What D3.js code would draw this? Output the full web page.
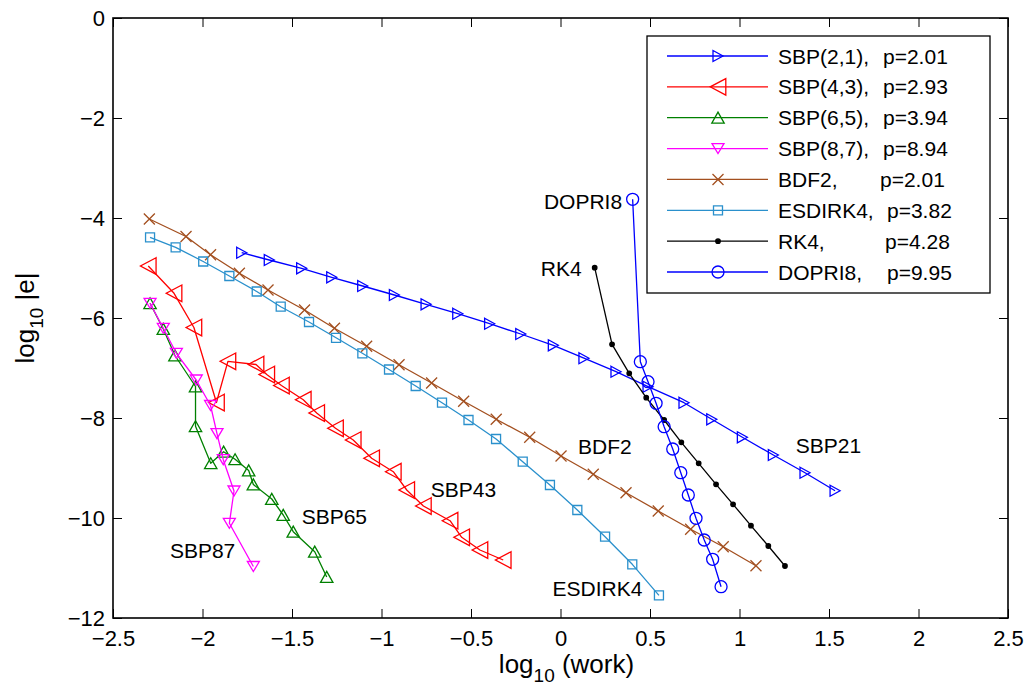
<!DOCTYPE html>
<html>
<head>
<meta charset="utf-8">
<script src="https://cdn.jsdelivr.net/npm/d3@7"></script>
<style>
  html, body { margin: 0; padding: 0; background: #fff; }
  svg { display: block; font-family: Arial, "Liberation Sans", Helvetica, sans-serif; }
</style>
</head>
<body>
<svg id="chart" width="1031" height="693"></svg>
<script>
// ---- data: log10(work) vs log10 |e| for each integrator ----
const sbp21X = [-1.781, -1.627, -1.446, -1.278, -1.105, -0.928, -0.751, -0.574, -0.396, -0.222,
                -0.040, 0.131, 0.310, 0.489, 0.690, 0.845, 1.016, 1.189, 1.366, 1.534];
const sbp21Y = [-4.694, -4.840, -5.006, -5.186, -5.360, -5.540, -5.726, -5.914, -6.114, -6.320,
                -6.546, -6.804, -7.074, -7.374, -7.694, -8.026, -8.386, -8.740, -9.094, -9.454];

const sbp43X = [-2.303, -2.159, -2.048, -1.922, -1.858, -1.701, -1.641, -1.559, -1.437, -1.362,
                -1.257, -1.158, -1.055, -0.934, -0.859, -0.766, -0.617, -0.552, -0.450, -0.320];
const sbp43Y = [-4.960, -5.506, -6.190, -7.690, -6.866, -6.930, -7.130, -7.350, -7.634, -7.900,
                -8.206, -8.440, -8.806, -9.074, -9.440, -9.760, -10.054, -10.386, -10.640, -10.840];

const sbp65X = [-2.293, -2.219, -2.154, -2.039, -2.039, -1.954, -1.882, -1.818, -1.742, -1.716,
                -1.613, -1.549, -1.493, -1.373, -1.306];
const sbp65Y = [-5.706, -6.220, -6.750, -7.370, -8.166, -8.906, -8.674, -8.826, -9.050, -9.330,
                -9.620, -9.940, -10.274, -10.674, -11.180];

const sbp87X = [-2.293, -2.219, -2.146, -2.035, -1.955, -1.919, -1.884, -1.824, -1.850, -1.716];
const sbp87Y = [-5.706, -6.206, -6.706, -7.240, -7.750, -8.314, -8.834, -9.460, -10.106, -10.970];

const bdf2X = [-2.297, -2.092, -1.955, -1.794, -1.634, -1.430, -1.263, -1.083, -0.902, -0.720,
               -0.541, -0.359, -0.172, 0.003, 0.183, 0.366, 0.546, 0.727, 0.909, 1.092];
const bdf2Y = [-4.020, -4.370, -4.734, -5.106, -5.440, -5.840, -6.206, -6.566, -6.934, -7.300,
               -7.666, -8.026, -8.384, -8.760, -9.126, -9.494, -9.860, -10.226, -10.574, -10.954];

const esdirk4X = [-2.293, -2.150, -1.996, -1.850, -1.697, -1.563, -1.405, -1.254, -1.107, -0.958,
                  -0.809, -0.662, -0.514, -0.360, -0.211, -0.059, 0.094, 0.249, 0.401, 0.550];
const esdirk4Y = [-4.386, -4.586, -4.870, -5.160, -5.470, -5.774, -6.080, -6.396, -6.706, -7.030,
                  -7.360, -7.694, -8.040, -8.420, -8.874, -9.340, -9.840, -10.374, -10.926, -11.546];

const rk4X = [0.191, 0.288, 0.384, 0.479, 0.579, 0.675, 0.772, 0.869, 0.964, 1.064, 1.161, 1.254];
const rk4Y = [-4.994, -6.526, -7.106, -7.594, -8.040, -8.486, -8.906, -9.326, -9.726, -10.154, -10.560, -10.960];

const dopri8X = [0.403, 0.446, 0.489, 0.534, 0.579, 0.627, 0.672, 0.714, 0.757, 0.803, 0.850, 0.897];
const dopri8Y = [-3.626, -6.874, -7.274, -7.706, -8.174, -8.620, -9.094, -9.540, -10.006, -10.440, -10.826, -11.374];

// legend entries: method name and measured order
const legendNames  = ["SBP(2,1),", "SBP(4,3),", "SBP(6,5),", "SBP(8,7),", "BDF2,", "ESDIRK4,", "RK4,", "DOPRI8,"];
const legendOrders = ["p=2.01", "p=2.93", "p=3.94", "p=8.94", "p=2.01", "p=3.82", "p=4.28", "p=9.95"];

// tick values
const xTicks = [-2.5, -2, -1.5, -1, -0.5, 0, 0.5, 1, 1.5, 2, 2.5];
const yTicks = [-12, -10, -8, -6, -4, -2, 0];

// in-plot curve labels (data coordinates)
const curveLabels = ["DOPRI8", "RK4", "BDF2", "SBP43", "ESDIRK4", "SBP21", "SBP65", "SBP87"];
const curveLabelX = [0.344, 0.118, 0.098, -0.725, -0.044, 1.314, -1.446, -2.182];
const curveLabelY = [-3.66, -5.00, -8.56, -9.42, -11.40, -8.54, -9.96, -10.64];
const curveLabelAnchor = ["end", "end", "start", "start", "start", "start", "start", "start"];

// ---- drawing ----
const svg = d3.select("#chart");
const W = 1031, H = 693;
const plot = { left: 113, right: 1008, top: 18, bottom: 618 };

svg.append("rect").attr("width", W).attr("height", H).attr("fill", "#fff");

const x = d3.scaleLinear().domain([-2.5, 2.5]).range([plot.left, plot.right]);
const y = d3.scaleLinear().domain([-12, 0]).range([plot.bottom, plot.top]);

// marker shapes
const markerPaths = {
  triRight: "M-5,-5.5L5,0L-5,5.5Z",
  triLeft:  "M7.8,-8.3L-7.8,0L7.8,8.3Z",
  triUp:    "M0,-5.6L6.2,5.4L-6.2,5.4Z",
  triDown:  "M-6,-5L6,-5L0,5Z",
  cross:    "M-5.5,-5.5L5.5,5.5M-5.5,5.5L5.5,-5.5",
  square:   "M-4.5,-4.5H4.5V4.5H-4.5Z",
  circle:   d3.symbol().type(d3.symbolCircle).size(Math.PI * 36)(),
  dot:      d3.symbol().type(d3.symbolCircle).size(Math.PI * 5)()
};

const series = [
  { xs: sbp21X,   ys: sbp21Y,   color: "#0000ff", marker: "triRight" },
  { xs: sbp43X,   ys: sbp43Y,   color: "#ff0000", marker: "triLeft" },
  { xs: sbp65X,   ys: sbp65Y,   color: "#008000", marker: "triUp" },
  { xs: sbp87X,   ys: sbp87Y,   color: "#ff00ff", marker: "triDown" },
  { xs: bdf2X,    ys: bdf2Y,    color: "#a34f1f", marker: "cross" },
  { xs: esdirk4X, ys: esdirk4Y, color: "#2a90cc", marker: "square" },
  { xs: rk4X,     ys: rk4Y,     color: "#000000", marker: "dot", filled: true },
  { xs: dopri8X,  ys: dopri8Y,  color: "#0000ff", marker: "circle" }
];

// axes: ticks pointing inward on all four sides
const fmt = d3.format("");
const axisFont = 22;

const gx = svg.append("g").attr("transform", `translate(0,${plot.bottom})`)
  .call(d3.axisBottom(x).tickValues(xTicks).tickFormat(fmt).tickSizeInner(-9).tickSizeOuter(0).tickPadding(12));
const gxt = svg.append("g").attr("transform", `translate(0,${plot.top})`)
  .call(d3.axisTop(x).tickValues(xTicks).tickFormat("").tickSizeInner(-9).tickSizeOuter(0));
const gy = svg.append("g").attr("transform", `translate(${plot.left},0)`)
  .call(d3.axisLeft(y).tickValues(yTicks).tickFormat(fmt).tickSizeInner(-9).tickSizeOuter(0).tickPadding(8));
const gyr = svg.append("g").attr("transform", `translate(${plot.right},0)`)
  .call(d3.axisRight(y).tickValues(yTicks).tickFormat("").tickSizeInner(-9).tickSizeOuter(0));

[gx, gxt, gy, gyr].forEach(g => {
  g.select(".domain").remove();
  g.selectAll(".tick line").attr("stroke", "#000").attr("stroke-width", 1);
  g.selectAll(".tick text").attr("fill", "#000").style("font-size", axisFont + "px")
    .style("font-family", "Arial, 'Liberation Sans', Helvetica, sans-serif");
});

// series lines and markers
const line = d3.line().x(d => x(d[0])).y(d => y(d[1]));
const gSeries = svg.append("g");
series.forEach(s => {
  const pts = s.xs.map((v, i) => [v, s.ys[i]]);
  gSeries.append("path").datum(pts)
    .attr("d", line).attr("fill", "none")
    .attr("stroke", s.color).attr("stroke-width", 1.3).attr("stroke-linejoin", "round");
  gSeries.append("g").selectAll("path").data(pts).join("path")
    .attr("transform", d => `translate(${x(d[0])},${y(d[1])})`)
    .attr("d", markerPaths[s.marker])
    .attr("fill", s.filled ? s.color : "none")
    .attr("stroke", s.color).attr("stroke-width", 1.3);
});

// plot frame
svg.append("rect")
  .attr("x", plot.left).attr("y", plot.top)
  .attr("width", plot.right - plot.left).attr("height", plot.bottom - plot.top)
  .attr("fill", "none").attr("stroke", "#000").attr("stroke-width", 1.6);

// curve labels
svg.append("g").selectAll("text").data(curveLabels).join("text")
  .attr("x", (d, i) => x(curveLabelX[i]))
  .attr("y", (d, i) => y(curveLabelY[i]))
  .attr("dy", "0.36em")
  .attr("text-anchor", (d, i) => curveLabelAnchor[i])
  .style("font-size", "21px").attr("fill", "#000")
  .text(d => d);

// legend
const legendBox = { x: 647, y: 36, w: 343, h: 257 };
const lg = svg.append("g");
lg.append("rect").attr("x", legendBox.x).attr("y", legendBox.y)
  .attr("width", legendBox.w).attr("height", legendBox.h)
  .attr("fill", "#fff").attr("stroke", "#000").attr("stroke-width", 1.3);
const rowY = d3.scaleLinear().domain([0, legendNames.length - 1]).range([56, 272]);
const orderX = [883, 883, 883, 883, 880, 887, 885, 887];
series.forEach((s, i) => {
  const yy = rowY(i);
  lg.append("line").attr("x1", 667).attr("x2", 768).attr("y1", yy).attr("y2", yy)
    .attr("stroke", s.color).attr("stroke-width", 1.3);
  lg.append("path").attr("transform", `translate(718,${yy})`)
    .attr("d", markerPaths[s.marker])
    .attr("fill", s.filled ? s.color : "none")
    .attr("stroke", s.color).attr("stroke-width", 1.3);
  lg.append("text").attr("x", 778).attr("y", yy).attr("dy", "0.36em")
    .style("font-size", "21px").attr("fill", "#000").text(legendNames[i]);
  lg.append("text").attr("x", orderX[i]).attr("y", yy).attr("dy", "0.36em")
    .style("font-size", "21px").attr("fill", "#000").text(legendOrders[i]);
});

// axis titles
const titleFont = 26, subFont = 19, subShift = 9;
const xt = svg.append("text")
  .attr("x", (plot.left + plot.right) / 2 + 6).attr("y", 673)
  .attr("text-anchor", "middle").style("font-size", titleFont + "px").attr("fill", "#000");
xt.append("tspan").text("log");
xt.append("tspan").attr("dy", subShift).style("font-size", subFont + "px").text("10");
xt.append("tspan").attr("dy", -subShift).text(" (work)");

const yt = svg.append("text")
  .attr("transform", `translate(34,${(plot.top + plot.bottom) / 2}) rotate(-90)`)
  .attr("text-anchor", "middle").style("font-size", titleFont + "px").attr("fill", "#000");
yt.append("tspan").text("log");
yt.append("tspan").attr("dy", subShift).style("font-size", subFont + "px").text("10");
yt.append("tspan").attr("dy", -subShift).text(" |e|");
</script>
</body>
</html>
